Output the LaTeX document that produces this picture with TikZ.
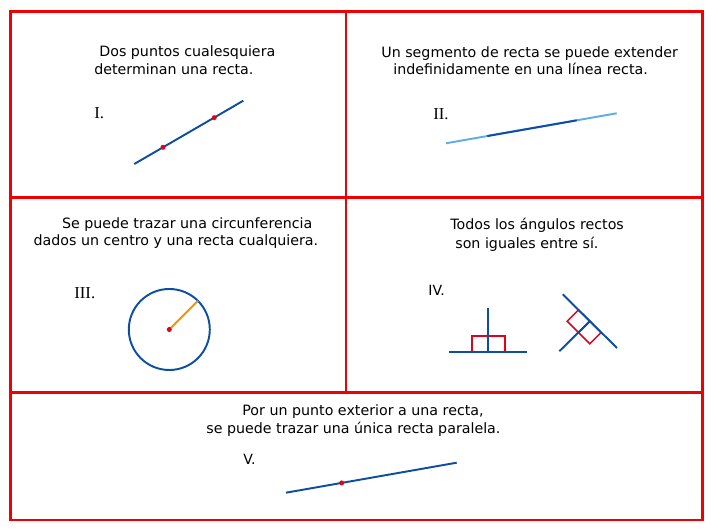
\documentclass[tikz,border=0pt]{standalone}
\usepackage{fontspec}
\setmainfont{DejaVu Sans}
\newfontfamily\numfont{Liberation Serif}
\usepackage{xcolor}
\usepackage{tikz}
\definecolor{EPRed}{HTML}{F00000}
\definecolor{EPBlue}{HTML}{0B4EA2}
\definecolor{EPLight}{HTML}{5DADE8}
\definecolor{EPOrange}{HTML}{F39200}
\definecolor{EPDot}{HTML}{E2001A}

\begin{document}
\begin{tikzpicture}[x=1cm,y=1cm,
  txt/.style={anchor=base west,inner sep=0pt,font=\fontsize{8.1}{9.7}\selectfont},
  num/.style={anchor=base west,inner sep=0pt,font=\numfont\fontsize{9.5}{11}\selectfont},
  numsf/.style={anchor=base west,inner sep=0pt,font=\fontsize{8}{9.6}\selectfont},
  frame/.style={EPRed,line width=1.7pt},
  ln/.style={EPBlue,line width=1.1pt},
  sq/.style={EPDot,line width=0.9pt}]
\path[use as bounding box] (0,0) rectangle (14.26,10.60);
% frame
\draw[frame] (0.21,0.20) rectangle (14.05,10.37);
\draw[frame] (0.21,6.64) -- (14.05,6.64);
\draw[frame] (0.21,2.75) -- (14.05,2.75);
\draw[frame] (6.92,2.75) -- (6.92,10.37);
% I
\node[txt] (t1a) at (1.98,9.46) {Dos puntos cualesquiera};
\node[txt] (t1b) at (1.88,9.114) {determinan una recta.};
\node[num] (n1) at (1.88,8.22) {I.};
\draw[ln] (2.686,7.32) -- (4.866,8.586);
\fill[EPDot] (3.26,7.654) circle (0.05);
\fill[EPDot] (4.286,8.247) circle (0.05);
% II
\node[txt] (t2a) at (7.62,9.454) {Un segmento de recta se puede extender};
\node[txt] (t2b) at (7.86,9.114) {indefinidamente en una línea recta.};
\node[num] (n2) at (8.66,8.20) {II.};
\draw[EPLight,line width=1.1pt] (8.92,7.734) -- (12.334,8.334);
\draw[ln] (9.746,7.879) -- (11.534,8.193);
% III
\node[txt] (t3a) at (1.234,6.026) {Se puede trazar una circunferencia};
\node[txt] (t3b) at (0.666,5.68) {dados un centro y una recta cualquiera.};
\node[num] (n3) at (1.48,4.62) {III.};
\draw[ln] (3.386,4.01) circle (0.81);
\draw[EPOrange,line width=1.1pt] (3.386,4.01) -- ++(45:0.81);
\fill[EPDot] (3.386,4.01) circle (0.05);
% IV
\node[txt] (t4a) at (9.00,6.00) {Todos los ángulos rectos};
\node[txt] (t4b) at (9.10,5.634) {son iguales entre sí.};
\node[numsf] (n4) at (8.56,4.69) {IV.};
\draw[sq] (9.436,3.554) rectangle (10.096,3.884);
\draw[ln] (8.986,3.554) -- (10.534,3.554);
\draw[ln] (9.766,3.554) -- (9.766,4.434);
\coordinate (K) at (11.796,4.176);
\draw[sq] (K) -- ++(135:0.32) -- ++(225:0.32) -- ++(315:0.32) -- cycle;
\draw[sq] (K) -- ++(225:0.32) -- ++(315:0.32) -- ++(45:0.32) -- cycle;
\draw[ln] (11.254,4.714) -- (12.34,3.64);
\draw[ln] (11.186,3.574) -- (K);
% V
\node[txt] (t5a) at (4.84,2.286) {Por un punto exterior a una recta,};
\node[txt] (t5b) at (4.12,1.934) {se puede trazar una única recta paralela.};
\node[numsf] (n5) at (4.86,1.30) {V.};
\draw[ln] (5.72,0.746) -- (9.134,1.346);
\fill[EPDot] (6.834,0.942) circle (0.05);
\end{tikzpicture}
\end{document}
